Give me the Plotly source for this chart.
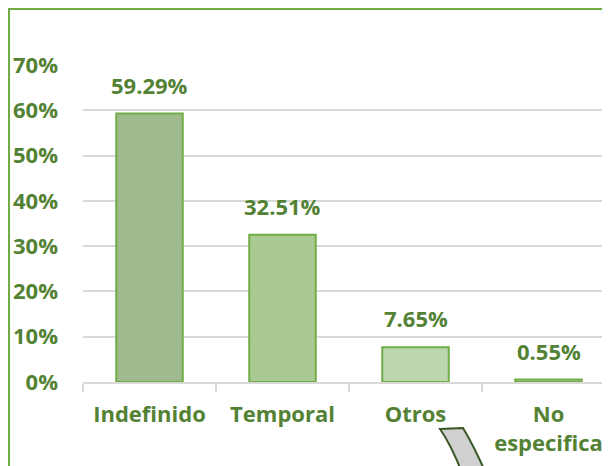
import plotly.graph_objects as go

categories = ["Indefinido", "Temporal", "Otros", "No<br>especifica"]
values = [0.5929, 0.3251, 0.0765, 0.0055]
labels = ["59.29%", "32.51%", "7.65%", "0.55%"]
bar_colors = ["#9fbb8d", "#a9cb93", "#bcd6ad", "#abcd96"]

W, H = 610, 466
L, R, T, B = 75, 3, 57, 92
PW, PH = W - L - R, H - T - B
TXT = "#548235"
FONT = "Open Sans"
FS = 22

def px(x):
    return (x - L) / PW

def py(y):
    return (H - B - y) / PH

fig = go.Figure()
fig.add_trace(go.Bar(
    x=categories, y=values,
    marker=dict(color=bar_colors, line=dict(color="#70ad47", width=2)),
    width=0.5, hoverinfo="skip",
))

for c, v, t in zip(categories, values, labels):
    fig.add_annotation(x=c, y=v, text=t, showarrow=False, yanchor="bottom",
                       yshift=12, font=dict(family=FONT, size=FS, color=TXT, weight="bold"))

shapes = []
# outer green border (left and top)
shapes.append(dict(type="line", xref="paper", yref="paper", x0=px(0.8), x1=px(0.8), y0=py(0), y1=py(470),
                   line=dict(color="#70ad47", width=2.5)))
shapes.append(dict(type="line", xref="paper", yref="paper", x0=px(0), x1=px(612), y0=py(0.8), y1=py(0.8),
                   line=dict(color="#70ad47", width=2.5)))
# grey curved decoration at bottom
pts = [("M", 432, 421), ("L", 455, 420), ("Q", 466, 438, 480, 470), ("L", 456, 470), ("Q", 444, 438, 432, 421)]
d = ""
for p in pts:
    if p[0] == "Q":
        d += f"Q{px(p[1]):.5f},{py(p[2]):.5f} {px(p[3]):.5f},{py(p[4]):.5f} "
    else:
        d += f"{p[0]}{px(p[1]):.5f},{py(p[2]):.5f} "
d += "Z"
shapes.append(dict(type="path", xref="paper", yref="paper", path=d, fillcolor="#d0d0d0",
                   line=dict(color="#375623", width=2)))

fig.update_layout(
    width=W, height=H,
    margin=dict(l=L, r=R, t=T, b=B),
    plot_bgcolor="white", paper_bgcolor="white",
    showlegend=False,
    shapes=shapes,
    font=dict(family=FONT, color=TXT, size=FS, weight="bold"),
    xaxis=dict(
        range=[-0.5, 3.5], showgrid=False, showline=True, linecolor="#d9d9d9", linewidth=1.5,
        ticks="outside", tickson="boundaries", ticklen=8, tickcolor="#d9d9d9", tickwidth=1.5,
        ticklabelstandoff=12,
        tickfont=dict(family=FONT, size=FS, color=TXT, weight="bold"), fixedrange=True,
    ),
    yaxis=dict(
        range=[0, 0.7], dtick=0.1, tickformat=".0%", showgrid=True, gridcolor="#d9d9d9", gridwidth=1.5,
        zeroline=False, showline=False, ticks="", ticklabelstandoff=24,
        tickfont=dict(family=FONT, size=FS, color=TXT, weight="bold"), fixedrange=True,
    ),
)

fig.write_html("out.html")
